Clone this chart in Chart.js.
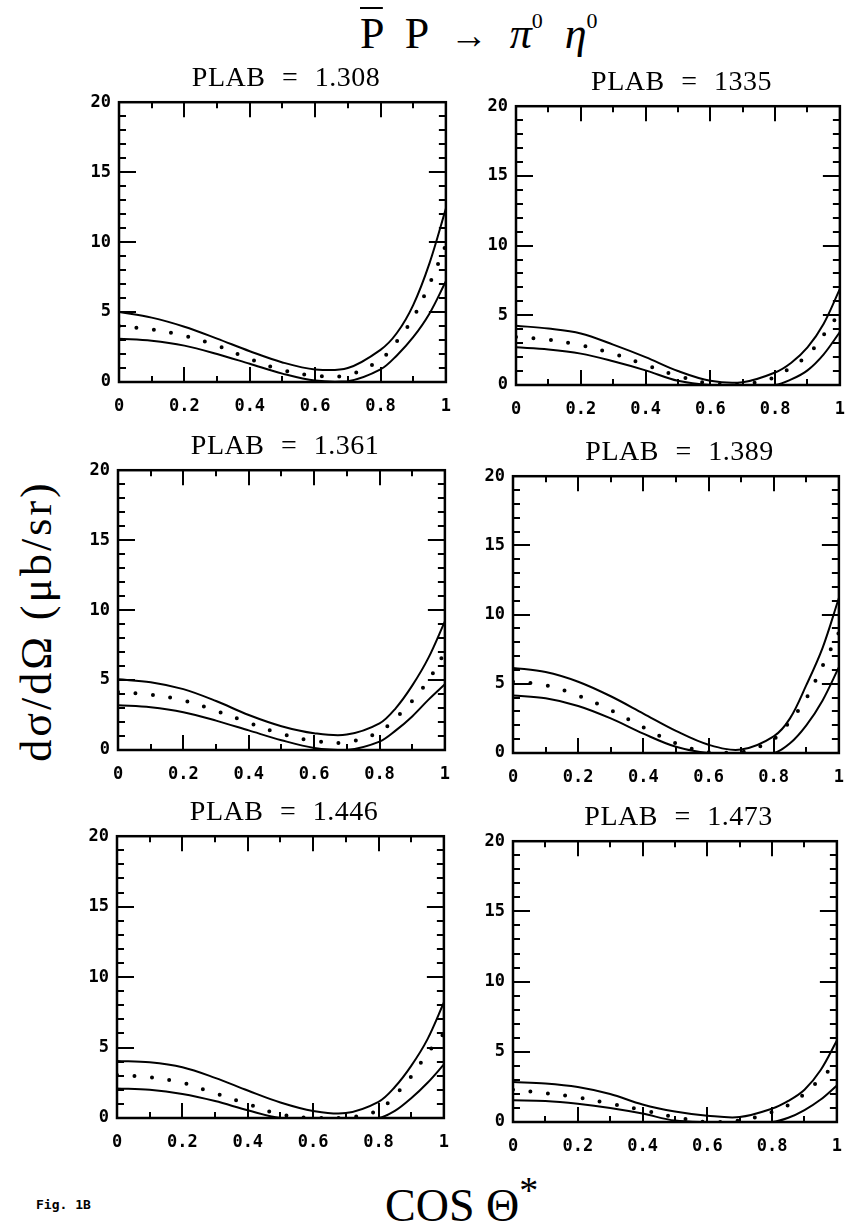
<!DOCTYPE html>
<html>
<head>
<meta charset="utf-8">
<script src="https://cdn.jsdelivr.net/npm/chart.js@4.4.1/dist/chart.umd.min.js"></script>
<style>
html,body{margin:0;padding:0;background:#fff;overflow:hidden}
#fig{position:relative;width:859px;height:1232px;overflow:hidden;background:#fff}
#fig canvas{position:absolute}
.t{position:absolute;color:#000;white-space:nowrap;font-family:"Liberation Serif","DejaVu Serif",serif;line-height:1}
.pt{font-size:28px;width:340px;text-align:center;word-spacing:9px;letter-spacing:0.5px}
</style>
</head>
<body>
<div id="fig">
  <div class="t" id="mainTitle" style="left:360px;top:10px;font-size:44px;word-spacing:11px"><span style="text-decoration:overline;text-decoration-thickness:2px">P</span> P <span style="font-size:38px">→</span> <i>π</i><sup style="font-size:22px;vertical-align:20px">0</sup> <i>η</i><sup style="font-size:22px;vertical-align:20px">0</sup></div>
  <div class="t" id="yTitle" style="left:37px;top:621px;font-size:44px;letter-spacing:3px;transform:translate(-50%,-50%) rotate(-90deg)">dσ/dΩ (μb/sr)</div>
  <div class="t" id="xTitle" style="left:385px;top:1171px;font-size:46px">COS Θ<sup style="font-size:38px;vertical-align:18px">*</sup></div>
  <div class="t" id="figLabel" style="left:36px;top:1198px;font-size:13px;font-family:'DejaVu Sans Mono',monospace;font-weight:bold">Fig. 1B</div>
</div>
<script>
// ---- data ----
const cosTheta = [0, 0.1, 0.2, 0.3, 0.4, 0.5, 0.6, 0.7, 0.8, 0.85, 0.9, 0.95, 1.0];
const xTickLabels = ['0', '0.2', '0.4', '0.6', '0.8', '1'];
const yTickLabels = ['0', '5', '10', '15', '20'];
const plabLabels = ['1.308', '1335', '1.361', '1.389', '1.446', '1.473'];

const upper1308 = [5.0, 4.6, 3.95, 3.1, 2.2, 1.4, 0.9, 1.0, 2.3, 3.5, 5.5, 8.5, 12.4];
const mid1308   = [4.0, 3.75, 3.3, 2.6, 1.65, 0.85, 0.45, 0.5, 1.6, 2.9, 4.6, 7.0, 9.8];
const lower1308 = [3.1, 2.95, 2.6, 2.0, 1.3, 0.6, 0.1, 0.05, 0.9, 1.9, 3.2, 4.9, 7.2];

const upper1335 = [4.25, 4.05, 3.7, 2.9, 2.0, 1.0, 0.3, 0.2, 0.9, 1.6, 2.7, 4.4, 6.9];
const mid1335   = [3.45, 3.25, 2.85, 2.25, 1.45, 0.65, 0.1, 0.05, 0.55, 1.3, 2.1, 3.6, 5.2];
const lower1335 = [2.7, 2.55, 2.25, 1.7, 1.05, 0.3, 0, 0, 0, 0.4, 1.05, 2.2, 3.8];

const upper1361 = [5.05, 4.85, 4.35, 3.5, 2.5, 1.7, 1.2, 1.1, 1.9, 3.0, 4.6, 6.6, 9.2];
const mid1361   = [4.15, 3.95, 3.55, 2.8, 1.95, 1.15, 0.65, 0.55, 1.3, 2.3, 3.5, 5.0, 7.0];
const lower1361 = [3.2, 3.05, 2.7, 2.1, 1.4, 0.7, 0.15, 0, 0.6, 1.4, 2.4, 3.6, 4.7];

const upper1389 = [6.15, 5.85, 5.15, 4.1, 2.85, 1.6, 0.6, 0.25, 1.2, 2.5, 4.9, 7.6, 11.2];
const mid1389   = [5.15, 4.9, 4.15, 3.1, 1.85, 0.7, 0.05, 0.05, 1.0, 2.3, 3.95, 6.3, 8.7];
const lower1389 = [4.15, 3.95, 3.4, 2.5, 1.4, 0.45, 0, 0, 0, 0.7, 2.0, 3.8, 6.2];

const upper1446 = [4.05, 3.95, 3.6, 2.85, 1.95, 1.1, 0.5, 0.35, 1.15, 2.2, 3.7, 5.6, 8.2];
const mid1446   = [3.05, 2.9, 2.5, 1.75, 1.0, 0.25, 0, 0, 0.55, 1.6, 2.95, 4.6, 6.0];
const lower1446 = [2.1, 2.0, 1.7, 1.2, 0.55, 0, 0, 0, 0, 0.5, 1.4, 2.5, 3.8];

const upper1473 = [2.85, 2.75, 2.5, 2.0, 1.25, 0.75, 0.45, 0.35, 0.95, 1.5, 2.3, 3.7, 5.8];
const mid1473   = [2.3, 2.05, 1.75, 1.3, 0.85, 0.35, 0, 0.1, 0.7, 1.2, 2.0, 3.1, 4.2];
const lower1473 = [1.55, 1.5, 1.3, 1.0, 0.6, 0.1, 0, 0, 0, 0.3, 0.85, 1.6, 2.6];

const seriesSets = [
  [upper1308, mid1308, lower1308],
  [upper1335, mid1335, lower1335],
  [upper1361, mid1361, lower1361],
  [upper1389, mid1389, lower1389],
  [upper1446, mid1446, lower1446],
  [upper1473, mid1473, lower1473]
];

// ---- layout (plot-area boxes in page pixels) ----
const boxes = [
  {l: 119, t: 99,  r: 459, b: 382},
  {l: 516, t: 103, r: 853, b: 385},
  {l: 118, t: 467, r: 458, b: 750},
  {l: 513, t: 473, r: 852, b: 753},
  {l: 117, t: 833, r: 457, b: 1118},
  {l: 513, t: 838, r: 850, b: 1122}
];
const PAD_L = 60, PAD_T = 15, PAD_R = 6, PAD_B = 45;

const frameTicks = {
  id: 'frameTicks',
  afterDraw(chart) {
    const {ctx, chartArea: a} = chart;
    const xs = chart.scales.x, ys = chart.scales.y;
    ctx.save();
    ctx.strokeStyle = '#000';
    ctx.lineWidth = 2;
    ctx.beginPath();
    xs.ticks.forEach(tk => {
      const v = tk.value;
      if (v <= 1e-6 || v >= 1 - 1e-6) return;
      const major = Math.round(v * 10) % 2 === 0;
      const len = major ? 15 : 6;
      const px = Math.round(xs.getPixelForValue(v));
      ctx.moveTo(px, a.bottom); ctx.lineTo(px, a.bottom - len);
      ctx.moveTo(px, a.top); ctx.lineTo(px, a.top + len);
    });
    ys.ticks.forEach(tk => {
      const v = tk.value;
      if (v <= 1e-6 || v >= 20 - 1e-6) return;
      const major = Math.round(v) % 5 === 0;
      const len = major ? 17 : 7;
      const py = Math.round(ys.getPixelForValue(v));
      ctx.moveTo(a.left, py); ctx.lineTo(a.left + len, py);
      ctx.moveTo(a.right, py); ctx.lineTo(a.right - len, py);
    });
    ctx.stroke();
    ctx.lineWidth = 2.5;
    ctx.strokeRect(a.left, a.top, a.right - a.left, a.bottom - a.top);
    ctx.restore();
  }
};

const fig = document.getElementById('fig');
const tickFont = {family: "'DejaVu Sans Mono', monospace", size: 17, weight: 'bold'};

boxes.forEach((bx, i) => {
  const w = (bx.r - bx.l) + PAD_L + PAD_R;
  const h = (bx.b - bx.t) + PAD_T + PAD_B;
  const cv = document.createElement('canvas');
  cv.width = w; cv.height = h;
  cv.style.left = (bx.l - PAD_L) + 'px';
  cv.style.top = (bx.t - PAD_T) + 'px';
  cv.style.width = w + 'px'; cv.style.height = h + 'px';
  fig.appendChild(cv);

  const title = document.createElement('div');
  title.className = 't pt';
  title.textContent = 'PLAB = ' + plabLabels[i];
  title.style.left = ((bx.l + bx.r) / 2 - 170 - 3) + 'px';
  title.style.top = (bx.t - 36) + 'px';
  fig.appendChild(title);

  const [up, mid, lo] = seriesSets[i];
  const toXY = arr => arr.map((v, k) => ({x: cosTheta[k], y: v}));
  const solid = {borderColor: '#000', borderWidth: 2, pointRadius: 0, fill: false, tension: 0.35};

  new Chart(cv, {
    type: 'line',
    data: {
      datasets: [
        Object.assign({label: 'upper', data: toXY(up)}, solid),
        Object.assign({label: 'lower', data: toXY(lo)}, solid),
        {label: 'central', data: toXY(mid), borderColor: '#000', borderWidth: 4,
         borderDash: [0, 17.5], borderCapStyle: 'round', pointRadius: 0, fill: false,
         tension: 0.35}
      ]
    },
    options: {
      responsive: false,
      animation: false,
      devicePixelRatio: 1,
      layout: {padding: {top: PAD_T, right: PAD_R, left: 0, bottom: 0}},
      plugins: {legend: {display: false}, tooltip: {enabled: false}, title: {display: false}},
      scales: {
        x: {
          type: 'linear', min: 0, max: 1,
          grid: {display: false, drawTicks: false},
          border: {display: false},
          ticks: {
            stepSize: 0.1, autoSkip: false, maxRotation: 0, padding: 14,
            color: '#000', font: tickFont,
            callback: v => {
              const k = Math.round(v * 10);
              return k % 2 === 0 ? xTickLabels[k / 2] : '';
            }
          },
          afterFit: s => { s.height = PAD_B; }
        },
        y: {
          type: 'linear', min: 0, max: 20,
          grid: {display: false, drawTicks: false},
          border: {display: false},
          ticks: {
            stepSize: 1, autoSkip: false, padding: 8,
            color: '#000', font: tickFont,
            callback: v => {
              const k = Math.round(v);
              return k % 5 === 0 ? yTickLabels[k / 5] : '';
            }
          },
          afterFit: s => { s.width = PAD_L; }
        }
      }
    },
    plugins: [frameTicks]
  });
});
</script>
</body>
</html>
